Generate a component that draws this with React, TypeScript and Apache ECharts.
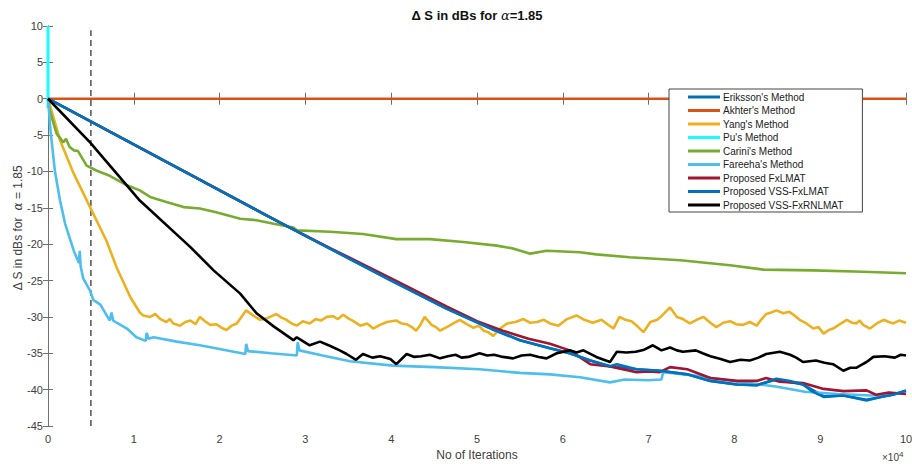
import React, { useEffect, useRef } from "react";
import * as echarts from "echarts";

const xTicks = [0, 10];
const yRange = [-45, 10];

const seriesNames = [
  "Eriksson's Method",
  "Akhter's Method",
  "Yang's Method",
  "Pu's Method",
  "Carini's Method",
  "Fareeha's Method",
  "Proposed FxLMAT",
  "Proposed VSS-FxLMAT",
  "Proposed VSS-FxRNLMAT",
];

const colors = ["#0072BD", "#D95319", "#EDB120", "#19FFFF", "#77AC30", "#4DBEEE", "#A2142F", "#0072BD", "#000000"];

const eriksson = [
  [0, 0], [2.7, -17.0], [4.0, -25.0], [4.65, -28.9], [5.2, -31.8], [5.5, -33.2], [5.85, -34.3], [6.08, -35.0],
  [6.32, -36.0], [6.55, -36.8], [6.86, -37.2], [7.13, -37.4], [7.45, -37.9], [7.72, -38.8], [8.03, -39.3],
  [8.26, -39.4], [8.49, -38.6], [8.8, -39.3], [9.04, -40.9], [9.27, -40.8], [9.54, -41.4], [9.8, -40.8], [10, -40.2],
];
const akhter = [[0, 0], [10, 0]];
const yang = [
  [0, 0], [0.14, -5.7], [0.3, -10.3], [0.49, -14.9], [0.68, -19.5], [0.8, -23.2], [0.96, -27.3], [1.07, -29.4],
  [1.11, -29.8], [1.19, -30.0], [1.25, -29.6], [1.31, -30.3], [1.38, -30.7], [1.42, -30.3], [1.46, -30.9],
  [1.54, -31.2], [1.6, -30.7], [1.66, -30.5], [1.72, -31.0], [1.77, -30.0], [1.83, -30.6], [1.89, -31.1],
  [1.96, -31.0], [2.04, -31.6], [2.08, -31.8], [2.14, -31.2], [2.2, -30.9], [2.31, -29.1], [2.39, -29.8],
  [2.47, -30.4], [2.55, -30.2], [2.66, -29.6], [2.72, -30.1], [2.78, -30.4], [2.84, -30.9], [2.9, -31.2],
  [2.97, -30.6], [3.05, -30.9], [3.12, -30.3], [3.18, -30.5], [3.25, -30.0], [3.32, -29.9], [3.38, -30.3],
  [3.44, -29.7], [3.5, -30.2], [3.55, -30.5], [3.64, -31.2], [3.72, -30.9], [3.79, -31.6], [3.87, -31.1],
  [3.95, -30.7], [4.06, -30.5], [4.12, -30.9], [4.18, -31.0], [4.24, -31.4], [4.29, -31.9], [4.34, -31.1],
  [4.39, -30.0], [4.47, -31.1], [4.52, -31.4], [4.57, -31.9], [4.63, -31.5], [4.68, -31.2], [4.74, -30.8],
  [4.8, -30.4], [4.88, -31.0], [4.96, -31.5], [5.02, -31.2], [5.08, -31.9], [5.13, -32.1], [5.19, -32.6],
  [5.27, -31.6], [5.35, -30.9], [5.45, -30.7], [5.54, -30.3], [5.62, -30.8], [5.7, -30.7], [5.78, -30.4],
  [5.85, -30.9], [5.95, -31.2], [6.05, -30.3], [6.16, -29.8], [6.25, -30.4], [6.35, -30.8], [6.45, -30.4],
  [6.52, -31.0], [6.59, -31.6], [6.66, -30.0], [6.73, -30.4], [6.8, -30.6], [6.87, -31.3], [6.94, -32.1],
  [7.02, -30.7], [7.1, -30.4], [7.15, -29.9], [7.25, -28.7], [7.33, -30.0], [7.4, -30.3], [7.48, -30.9],
  [7.56, -30.4], [7.64, -30.0], [7.72, -30.8], [7.79, -31.4], [7.87, -30.8], [7.95, -30.6], [8.02, -31.0],
  [8.1, -31.1], [8.18, -30.7], [8.26, -31.2], [8.31, -30.4], [8.37, -29.6], [8.43, -29.4], [8.49, -29.1],
  [8.57, -29.5], [8.64, -29.3], [8.7, -29.8], [8.76, -30.4], [8.84, -30.9], [8.92, -31.6], [8.98, -31.4],
  [9.04, -32.3], [9.1, -31.8], [9.15, -31.6], [9.23, -31.0], [9.31, -30.4], [9.37, -30.8], [9.42, -30.9],
  [9.46, -30.5], [9.5, -31.1], [9.58, -31.6], [9.66, -30.9], [9.74, -30.4], [9.8, -30.7], [9.85, -30.9],
  [9.92, -30.5], [10, -30.8],
];
const pu = [[0, -1.3], [0, 10]];
const carini = [
  [0, 0], [0.02, -1.6], [0.1, -4.8], [0.18, -6.0], [0.21, -5.5], [0.25, -6.6], [0.3, -7.1], [0.35, -7.2],
  [0.45, -9.2], [0.57, -9.9], [0.72, -10.6], [0.92, -11.9], [1.07, -12.6], [1.19, -13.5], [1.38, -14.2],
  [1.58, -14.9], [1.77, -15.1], [1.96, -15.6], [2.24, -16.5], [2.43, -16.7], [2.63, -17.2], [2.86, -17.7],
  [2.9, -18.1], [3.29, -18.3], [3.67, -18.6], [4.06, -19.3], [4.45, -19.3], [4.84, -19.7], [5.23, -20.2],
  [5.42, -20.6], [5.62, -21.3], [5.81, -20.9], [6.2, -21.1], [6.39, -21.4], [6.78, -21.8], [7.37, -22.2],
  [7.95, -22.9], [8.34, -23.5], [8.92, -23.6], [9.5, -23.8], [10, -24.0],
];
const fareeha = [
  [0, 0], [0.03, -4.5], [0.08, -9.9], [0.14, -14.0], [0.2, -17.2], [0.3, -20.9], [0.36, -22.6], [0.37, -20.9],
  [0.38, -23.0], [0.41, -24.7], [0.49, -26.4], [0.53, -27.7], [0.61, -28.3], [0.72, -30.5], [0.74, -29.4],
  [0.76, -30.5], [0.8, -30.8], [0.92, -31.6], [1.03, -32.8], [1.14, -33.3], [1.15, -32.2], [1.17, -33.0],
  [1.23, -32.8], [1.5, -33.4], [1.77, -33.9], [2.0, -34.4], [2.3, -35.1], [2.31, -33.7], [2.33, -34.7],
  [2.6, -35.0], [2.9, -35.3], [2.91, -33.5], [2.93, -34.6], [3.2, -35.3], [3.52, -36.1], [4.02, -36.7],
  [4.5, -36.9], [5.03, -37.2], [5.5, -37.7], [5.85, -37.9], [6.2, -38.3], [6.55, -39.0], [6.72, -38.6],
  [7.0, -38.7], [7.15, -38.6], [7.17, -37.6], [7.5, -38.0], [7.8, -38.5], [8.1, -39.0], [8.5, -39.6],
  [8.82, -40.3], [9.2, -40.6], [9.6, -40.8], [10, -40.5],
];
const fxlmat = [
  [0, 0], [2.7, -17.0], [3.3, -20.6], [4.0, -24.7], [4.65, -28.6], [5.0, -30.6], [5.3, -31.9], [5.6, -33.0],
  [5.85, -33.7], [6.08, -34.6], [6.32, -36.5], [6.55, -36.8], [6.86, -37.6], [7.0, -37.5], [7.13, -37.6],
  [7.25, -36.9], [7.45, -37.2], [7.72, -38.4], [8.03, -38.8], [8.26, -38.8], [8.37, -38.4], [8.53, -38.9],
  [8.8, -39.1], [9.04, -39.9], [9.27, -40.2], [9.54, -40.1], [9.65, -40.7], [9.8, -40.4], [10, -40.6],
];
const vssFxlmat = [
  [0, 0], [2.7, -17.0], [4.0, -25.0], [4.65, -28.9], [5.2, -31.8], [5.5, -33.2], [5.85, -34.3], [6.08, -35.0],
  [6.32, -36.0], [6.55, -36.8], [6.63, -36.5], [6.86, -37.2], [7.13, -37.4], [7.45, -37.9], [7.72, -38.8],
  [8.03, -39.3], [8.26, -39.4], [8.49, -38.5], [8.65, -38.8], [8.8, -39.3], [8.9, -40.2], [9.04, -41.0],
  [9.27, -40.8], [9.54, -41.5], [9.74, -40.9], [9.85, -40.7], [10, -40.1],
];
const vssFxrnlmat = [
  [0, 0], [0.49, -6.0], [1.07, -14.0], [1.66, -20.4], [1.93, -23.6], [2.24, -26.8], [2.43, -29.5],
  [2.63, -31.3], [2.86, -33.2], [2.9, -32.8], [3.05, -33.9], [3.17, -33.4], [3.29, -34.0], [3.4, -34.6],
  [3.48, -35.1], [3.59, -35.9], [3.67, -35.1], [3.78, -35.6], [3.87, -35.4], [3.99, -35.8], [4.06, -36.5],
  [4.18, -35.1], [4.27, -35.5], [4.35, -35.4], [4.45, -35.2], [4.57, -35.7], [4.66, -35.4], [4.75, -35.2],
  [4.82, -35.6], [4.9, -35.5], [5.03, -35.0], [5.12, -35.3], [5.2, -35.2], [5.3, -35.5], [5.42, -35.7],
  [5.52, -35.3], [5.62, -35.2], [5.72, -35.5], [5.81, -35.7], [5.93, -35.0], [6.08, -34.6], [6.16, -34.9],
  [6.24, -34.6], [6.39, -35.5], [6.55, -36.2], [6.63, -34.8], [6.74, -34.9], [6.85, -34.8], [6.95, -34.5],
  [7.05, -33.9], [7.15, -34.6], [7.25, -34.2], [7.33, -34.6], [7.4, -34.8], [7.55, -34.6], [7.63, -35.0],
  [7.72, -35.4], [7.84, -35.8], [7.95, -36.2], [8.07, -35.9], [8.18, -36.0], [8.28, -35.6], [8.37, -35.1],
  [8.53, -34.8], [8.65, -35.2], [8.72, -35.6], [8.8, -36.2], [8.95, -36.0], [9.05, -36.3], [9.15, -36.5],
  [9.27, -37.4], [9.35, -37.0], [9.42, -37.0], [9.48, -36.6], [9.54, -36.2], [9.62, -35.5], [9.75, -35.4],
  [9.87, -35.6], [9.94, -35.2], [10, -35.3],
];
const dashedMarker = [[0.5, -45], [0.5, 9.4]];

const seriesData = [eriksson, akhter, yang, pu, carini, fareeha, fxlmat, vssFxlmat, vssFxrnlmat];

const FONT = "'Liberation Sans', Arial, Helvetica, sans-serif";
const AXIS_COLOR = "#707070";
const TEXT_COLOR = "#404040";

export default function App() {
  const ref = useRef<HTMLDivElement>(null);
  useEffect(() => {
    if (!ref.current) return;
    const chart = echarts.init(ref.current, null, { renderer: "svg" });
    const axisCommon = {
      type: "value" as const,
      axisLine: { show: true, lineStyle: { color: AXIS_COLOR, width: 1 } },
      splitLine: { show: false },
    };
    const series: any[] = seriesData.map((d, i) => ({
      name: seriesNames[i],
      type: "line",
      data: d,
      showSymbol: false,
      symbol: "none",
      lineStyle: { color: colors[i], width: i === 3 ? 3 : 2.6 },
      itemStyle: { color: colors[i] },
      z: 2 + i,
    }));
    series.unshift({
      name: "marker",
      type: "line",
      data: dashedMarker,
      showSymbol: false,
      symbol: "none",
      lineStyle: { color: "#333", width: 1.3, type: [6, 4] },
      z: 1,
    });
    chart.setOption({
      animation: false,
      textStyle: { fontFamily: FONT },
      grid: { left: 48, right: 6, top: 26, bottom: 38, containLabel: false, outerBoundsMode: "none" },
      legend: {
        data: seriesNames,
        orient: "vertical",
        left: 669,
        top: 89,
        width: 190,
        padding: [2, 19, 1, 19],
        itemWidth: 32,
        itemHeight: 3,
        itemGap: 1.5,
        icon: "rect",
        backgroundColor: "#fff",
        borderColor: "#444",
        borderWidth: 1,
        textStyle: { fontSize: 10, color: "#222", fontFamily: FONT, lineHeight: 12, padding: [0, 0, 0, -2] },
      },
      xAxis: [
        {
          ...axisCommon,
          min: xTicks[0],
          max: xTicks[1],
          interval: 1,
          position: "bottom",
          axisTick: { show: true, inside: true, length: 6, lineStyle: { color: AXIS_COLOR } },
          axisLabel: { color: TEXT_COLOR, fontSize: 11, margin: 7, fontFamily: FONT },
          name: "No of Iterations",
          nameLocation: "middle",
          nameGap: 22,
          nameTextStyle: { color: TEXT_COLOR, fontSize: 12, fontFamily: FONT },
        },
        {
          ...axisCommon,
          min: xTicks[0],
          max: xTicks[1],
          interval: 1,
          position: "top",
          axisTick: { show: true, inside: true, length: 6, lineStyle: { color: AXIS_COLOR } },
          axisLabel: { show: false },
        },
      ],
      yAxis: [
        {
          ...axisCommon,
          min: yRange[0],
          max: yRange[1],
          interval: 5,
          position: "left",
          axisTick: { show: true, inside: true, length: 5, lineStyle: { color: AXIS_COLOR } },
          axisLabel: { color: TEXT_COLOR, fontSize: 11, margin: 5, fontFamily: FONT },
        },
        {
          ...axisCommon,
          min: yRange[0],
          max: yRange[1],
          interval: 5,
          position: "right",
          axisTick: { show: true, inside: true, length: 5, lineStyle: { color: AXIS_COLOR } },
          axisLabel: { show: false },
        },
      ],
      graphic: [
        {
          type: "text",
          x: 477,
          y: 15,
          style: {
            text: "{t|Δ S in dBs for }{a|α}{t|=1.85}",
            textAlign: "center",
            textVerticalAlign: "middle",
            rich: {
              t: { fontSize: 13, fontWeight: "bold", fill: "#111", fontFamily: FONT },
              a: { fontSize: 13, fill: "#111", fontFamily: "'DejaVu Serif', serif", fontStyle: "italic" },
            },
          },
        },
        {
          type: "text",
          x: 18,
          y: 228,
          rotation: Math.PI / 2,
          style: {
            text: "{t|Δ S in dBs for  }{a|α}{t| = 1.85}",
            textAlign: "center",
            textVerticalAlign: "middle",
            rich: {
              t: { fontSize: 12, fill: TEXT_COLOR, fontFamily: FONT },
              a: { fontSize: 12, fill: TEXT_COLOR, fontFamily: "'DejaVu Serif', serif", fontStyle: "italic" },
            },
          },
        },
        {
          type: "text",
          x: 882,
          y: 457,
          style: {
            text: "×10{s|4}",
            textVerticalAlign: "middle",
            fill: TEXT_COLOR,
            fontSize: 10,
            fontFamily: FONT,
            rich: { s: { fontSize: 8, fill: TEXT_COLOR, fontFamily: FONT, verticalAlign: "top", padding: [0, 0, 6, 0] } },
          },
        },
      ],
      series,
    });
    return () => chart.dispose();
  }, []);
  return <div ref={ref} style={{ position: "absolute", left: 0, top: 0, width: 912, height: 464 }} />;
}
